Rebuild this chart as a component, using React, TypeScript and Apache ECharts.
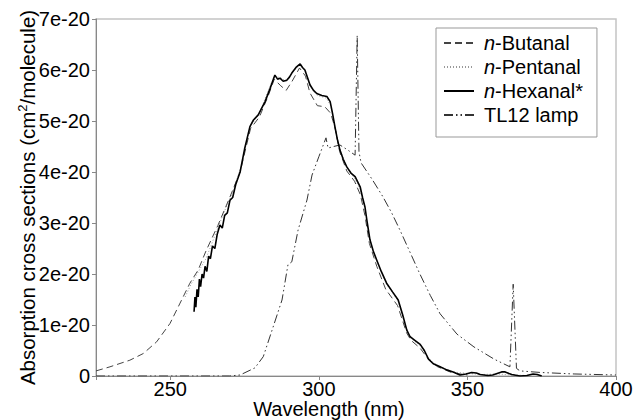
import React, { useEffect, useRef } from "react";
import * as echarts from "echarts";

// Values in units of 1e-20 cm^2/molecule
const butanalX = [225, 229.7, 236.4, 240.9, 245.4, 249.9, 253.3, 256.6, 259.4, 262, 266, 270, 273.5, 277, 280, 283, 285, 287, 289, 291, 293.5, 295.5, 297, 299.5, 302, 304, 305.5, 307, 309.4, 312, 314, 315.5, 317, 319.5, 322.5, 326.5, 329.5, 331, 334, 337, 340, 345, 350];
const butanalY = [0.10, 0.18, 0.31, 0.44, 0.67, 1.03, 1.43, 1.82, 2.08, 2.45, 2.95, 3.5, 4.0, 4.85, 5.08, 5.5, 5.82, 5.7, 5.6, 5.78, 6.04, 5.88, 5.55, 5.3, 5.28, 5.15, 4.85, 4.4, 4.02, 3.82, 3.55, 3.15, 2.6, 2.15, 1.7, 1.38, 0.85, 0.7, 0.55, 0.32, 0.18, 0.06, 0.02];

const pentanalX = [255, 257, 259, 262, 265, 268, 271, 274, 277, 280, 283, 285, 287, 289, 291, 293.5, 295.5, 297, 299.5, 302.5, 304, 305.5, 307, 309.5, 312, 314, 315.5, 317, 319.5, 322.8, 326.7, 329.6, 331, 334, 337, 340, 345, 350, 355, 360, 365, 370];
const pentanalY = [1.55, 1.8, 2.0, 2.3, 2.75, 3.2, 3.6, 4.15, 4.9, 5.15, 5.6, 5.88, 5.85, 5.78, 5.95, 6.1, 5.98, 5.68, 5.5, 5.45, 5.3, 4.85, 4.45, 4.08, 3.88, 3.65, 3.28, 2.7, 2.25, 1.8, 1.47, 0.88, 0.74, 0.6, 0.34, 0.2, 0.08, 0.05, 0.03, 0.04, 0.02, 0.01];

const hexanalX = [258, 258.3, 258.6, 259, 259.4, 259.8, 260.2, 260.7, 261.2, 261.7, 262.3, 262.9, 263.5, 264.2, 265, 265.8, 266.7, 267.5, 268.3, 269.2, 270.1, 271, 272, 273.5, 275, 276.8, 278, 279.6, 281.9, 283.6, 285.2, 286.1, 286.9, 288, 289.2, 290.1, 290.9, 292.3, 293.7, 294.5, 295.3, 296.2, 297, 298.2, 299.3, 301, 302.7, 303.8, 304.6, 305.4, 306.2, 307.1, 308.2, 309.4, 310.8, 312.2, 313.9, 314.7, 315.5, 316.3, 317.2, 318.3, 319.5, 321, 322.8, 324.8, 326.7, 328.2, 329.6, 330.7, 332.3, 334.1, 335.5, 336.9, 338.5, 340.8, 343, 345.2, 347.5, 349.5, 351.4, 353, 354.3, 356.9, 358.5, 360, 361.5, 362.7, 364, 364.9, 367.7, 370, 372.1, 373.5, 375];
const hexanalY = [1.26, 1.55, 1.35, 1.7, 1.55, 1.9, 1.75, 2.0, 1.92, 2.15, 2.05, 2.35, 2.3, 2.55, 2.5, 2.78, 2.96, 2.9, 3.15, 3.2, 3.45, 3.5, 3.75, 4.0, 4.45, 4.89, 5.02, 5.12, 5.38, 5.64, 5.9, 5.82, 5.84, 5.78, 5.8, 5.86, 5.94, 6.05, 6.12, 6.05, 6.0, 5.85, 5.71, 5.6, 5.54, 5.5, 5.48, 5.38, 5.15, 4.89, 4.65, 4.43, 4.25, 4.1, 3.98, 3.91, 3.71, 3.5, 3.32, 3.0, 2.67, 2.45, 2.27, 2.05, 1.82, 1.65, 1.49, 1.2, 0.9, 0.77, 0.7, 0.62, 0.5, 0.33, 0.24, 0.18, 0.12, 0.08, 0.02, 0.04, 0.07, 0.06, 0.03, 0.01, 0.02, 0.05, 0.08, 0.08, 0.05, 0.03, 0.0, 0.01, 0.04, 0.03, 0.0];

const lampX = [225, 250, 270, 273.5, 278.5, 281.3, 284.6, 287.6, 289.6, 290.9, 293, 296, 297.7, 300, 302.4, 303.1, 305, 307.1, 310, 312.2, 312.9, 313.5, 314.2, 318, 321.6, 324.5, 327.3, 330.5, 334, 337.5, 340.8, 346.5, 352.2, 359, 364.3, 365.4, 366.5, 367.7, 374.4, 385.9, 400];
const lampY = [0, 0, 0, 0.02, 0.16, 0.38, 0.96, 1.49, 2.18, 2.24, 2.86, 3.45, 3.94, 4.3, 4.67, 4.47, 4.5, 4.53, 4.42, 4.33, 6.68, 4.4, 4.18, 3.85, 3.51, 3.2, 2.86, 2.45, 2.0, 1.58, 1.22, 0.82, 0.57, 0.33, 0.18, 1.8, 0.15, 0.1, 0.07, 0.04, 0.02];

const seriesNames = ["n-Butanal", "n-Pentanal", "n-Hexanal*", "TL12 lamp"];
const yTicks = [0, 1, 2, 3, 4, 5, 6, 7];

const FONT = "'Liberation Sans', Arial, Helvetica, sans-serif";
const FS = 20;

function pairs(xs: number[], ys: number[]) {
  return xs.map((x, i) => [x, ys[i]]);
}

export default function App() {
  const ref = useRef<HTMLDivElement>(null);
  useEffect(() => {
    document.body.style.margin = "0";
    const chart = echarts.init(ref.current!, null, { renderer: "svg" });
    chart.setOption({
      animation: false,
      backgroundColor: "#ffffff",
      textStyle: { fontFamily: FONT },
      grid: {
        left: 96,
        right: 18,
        top: 19,
        bottom: 44,
        show: true,
        borderColor: "#c4c4c4",
        borderWidth: 1.5,
        outerBoundsMode: "none",
        containLabel: false,
      },
      legend: {
        orient: "vertical",
        left: 436,
        top: 28,
        width: 168,
        padding: [5, 14, 12, 7],
        itemGap: 4,
        itemWidth: 30,
        itemHeight: 14,
        borderColor: "#999999",
        borderWidth: 1,
        backgroundColor: "#ffffff",
        itemStyle: { opacity: 0 },
        data: seriesNames,
        formatter: (name: string) =>
          name.startsWith("n-") ? `{it|n}{rg|${name.slice(1)}}` : `{rg|${name}}`,
        textStyle: {
          fontFamily: FONT,
          fontSize: FS,
          color: "#000",
          lineHeight: 19,
          padding: [0, 0, 0, 5],
          rich: {
            it: { fontFamily: FONT, fontSize: FS, fontStyle: "italic", color: "#000" },
            rg: { fontFamily: FONT, fontSize: FS, color: "#000" },
          },
        },
      },
      xAxis: {
        type: "value",
        min: 225,
        max: 400,
        splitNumber: 4,
        name: "Wavelength (nm)",
        nameLocation: "middle",
        nameGap: 24,
        nameMoveOverlap: false,
        nameTextStyle: {
          fontFamily: FONT,
          fontSize: FS,
          lineHeight: 17,
          color: "#000",
          padding: [0, 54, 0, 0],
        },
        axisLine: { show: true, lineStyle: { color: "#888", width: 1 } },
        axisTick: { show: true, length: 4, lineStyle: { color: "#888" } },
        axisLabel: {
          fontFamily: FONT,
          fontSize: FS,
          lineHeight: 17,
          color: "#000",
          margin: 4,
          formatter: (v: number) => (v % 50 === 0 ? String(v) : ""),
        },
        splitLine: { show: false },
      },
      yAxis: {
        type: "value",
        min: yTicks[0],
        max: yTicks[yTicks.length - 1],
        interval: 1,
        name: "Absorption cross sections (cm{sup|2}/molecule)",
        nameLocation: "middle",
        nameGap: 58,
        nameMoveOverlap: false,
        nameTextStyle: {
          fontFamily: FONT,
          fontSize: 20.5,
          color: "#000",
          rich: {
            sup: { fontFamily: FONT, fontSize: 13, color: "#000", padding: [0, 0, 9, 0] },
          },
        },
        axisLine: { show: true, lineStyle: { color: "#888", width: 1 } },
        axisTick: { show: true, length: 4, lineStyle: { color: "#888" } },
        axisLabel: {
          fontFamily: FONT,
          fontSize: FS,
          color: "#000",
          margin: 6,
          formatter: (v: number) => (v === 0 ? "0" : `${v}e-20`),
        },
        splitLine: { show: false },
      },
      series: [
        {
          name: seriesNames[0],
          type: "line",
          symbol: "none",
          data: pairs(butanalX, butanalY),
          lineStyle: { color: "#444", width: 1, type: [7, 4] },
          itemStyle: { color: "#444" },
          z: 3,
        },
        {
          name: seriesNames[1],
          type: "line",
          symbol: "none",
          data: pairs(pentanalX, pentanalY),
          lineStyle: { color: "#999", width: 1, type: [1, 2] },
          itemStyle: { color: "#999" },
          z: 2,
        },
        {
          name: seriesNames[2],
          type: "line",
          symbol: "none",
          data: pairs(hexanalX, hexanalY),
          lineStyle: { color: "#000", width: 1.6, type: "solid" },
          itemStyle: { color: "#000" },
          z: 4,
        },
        {
          name: seriesNames[3],
          type: "line",
          symbol: "none",
          data: pairs(lampX, lampY),
          lineStyle: { color: "#333", width: 1, type: [9, 3, 1.5, 3, 1.5, 3] },
          itemStyle: { color: "#333" },
          z: 3,
        },
      ],
    });
    return () => chart.dispose();
  }, []);
  return <div ref={ref} style={{ width: 634, height: 420 }} />;
}
